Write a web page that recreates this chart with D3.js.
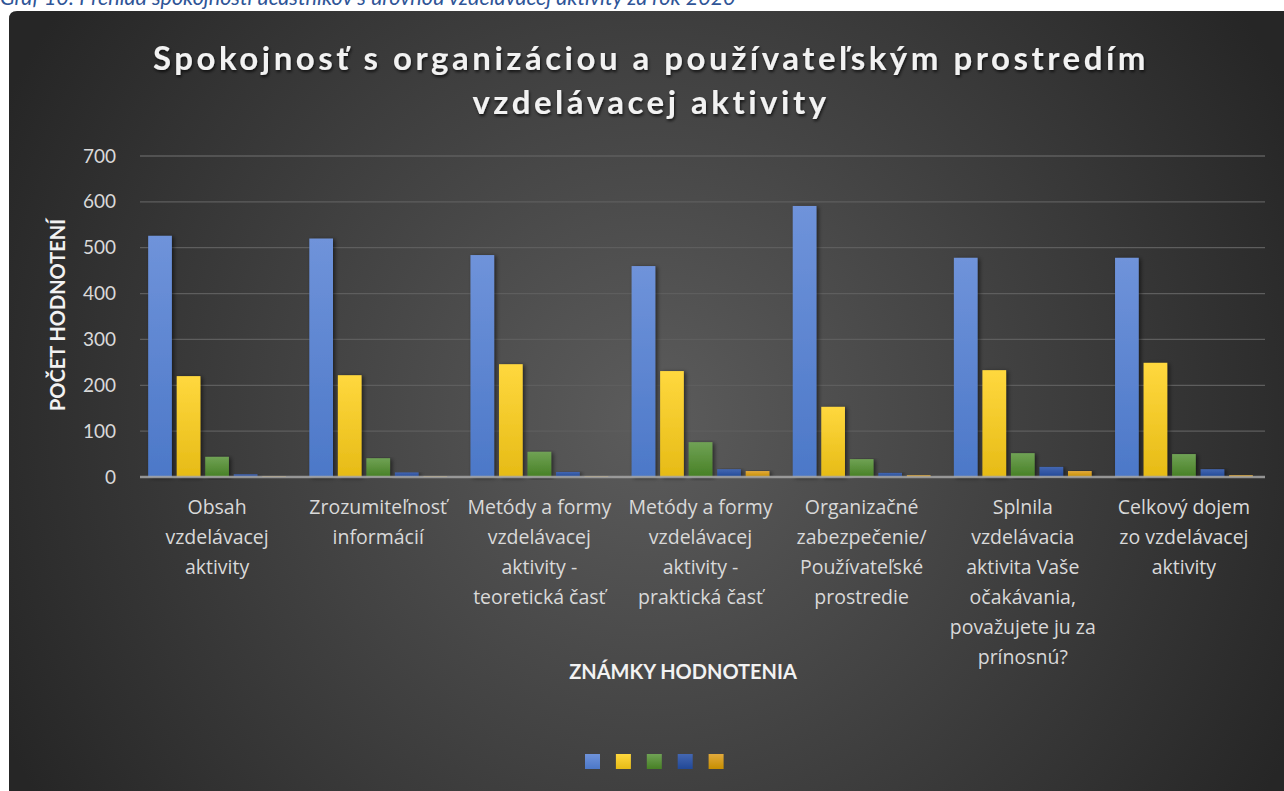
<!DOCTYPE html>
<html><head><meta charset="utf-8">
<script src="https://cdn.jsdelivr.net/npm/d3@7"></script>
<style>html,body{margin:0;padding:0;background:#fff;overflow:hidden}</style>
</head><body>
<script>
const categories = [
  ["Obsah","vzdelávacej","aktivity"],
  ["Zrozumiteľnosť","informácií"],
  ["Metódy a formy","vzdelávacej","aktivity -","teoretická časť"],
  ["Metódy a formy","vzdelávacej","aktivity -","praktická časť"],
  ["Organizačné","zabezpečenie/","Používateľské","prostredie"],
  ["Splnila","vzdelávacia","aktivita Vaše","očakávania,","považujete ju za","prínosnú?"],
  ["Celkový dojem","zo vzdelávacej","aktivity"]
];
const series1 = [526, 520, 484, 460, 591, 478, 478];
const series2 = [220, 222, 246, 231, 153, 233, 249];
const series3 = [44, 41, 55, 76, 39, 52, 50];
const series4 = [6, 10, 11, 17, 9, 22, 17];
const series5 = [2, 2, 2, 13, 4, 13, 4];
const yTicks = [0, 100, 200, 300, 400, 500, 600, 700];
const titleLines = ["Spokojnosť s organizáciou a používateľským prostredím", "vzdelávacej aktivity"];
const yTitle = "POČET HODNOTENÍ";
const xTitle = "ZNÁMKY HODNOTENIA";
const caption = "Graf 10: Prehľad spokojnosti účastníkov s úrovňou vzdelávacej aktivity za rok 2020";

const seriesList = [series1, series2, series3, series4, series5];
const colors = [["#6f93da","#4c78c8"],["#ffd83e","#e6bb16"],["#70a255","#478025"],["#4467b2","#214897"],["#e2aa3c","#c68e00"]];
const FONT = "'Open Sans', Lato, sans-serif";

const W = 1284, H = 791;
const svg = d3.select("body").append("svg").attr("width", W).attr("height", H);
const defs = svg.append("defs");
const rg = defs.append("radialGradient").attr("id","bg").attr("gradientUnits","userSpaceOnUse")
  .attr("cx",650).attr("cy",420).attr("r",720);
rg.append("stop").attr("offset","0%").attr("stop-color","#5c5c5c");
rg.append("stop").attr("offset","100%").attr("stop-color","#262626");
colors.forEach((c,i)=>{
  const g = defs.append("linearGradient").attr("id","g"+i).attr("x1",0).attr("y1",0).attr("x2",0).attr("y2",1);
  g.append("stop").attr("offset","0%").attr("stop-color",c[0]);
  g.append("stop").attr("offset","100%").attr("stop-color",c[1]);
});
const f = defs.append("filter").attr("id","sh").attr("x","-20%").attr("y","-5%").attr("width","160%").attr("height","115%");
f.append("feDropShadow").attr("dx",2).attr("dy",1).attr("stdDeviation",2).attr("flood-color","#000").attr("flood-opacity",0.55);
const tf = defs.append("filter").attr("id","tsh").attr("x","-5%").attr("y","-20%").attr("width","110%").attr("height","150%");
tf.append("feDropShadow").attr("dx",1).attr("dy",2).attr("stdDeviation",1.5).attr("flood-color","#000").attr("flood-opacity",0.7);

// caption (cropped at top, as in the source)
svg.append("text").attr("x",0).attr("y",5).attr("font-family","Lato, sans-serif")
  .attr("font-style","italic").attr("font-size",21.5).attr("fill","#2f5597").text(caption);

// panel
svg.append("path").attr("d", `M9,${H} L9,19 Q9,11 17,11 L${W+5},11 L${W+5},${H} Z`).attr("fill","url(#bg)");

const x0 = d3.scaleBand().domain(d3.range(categories.length)).range([136.5, 1264.5]).paddingInner(0.145).paddingOuter(0.0725);
const x1 = d3.scaleBand().domain(d3.range(seriesList.length)).range([0, x0.bandwidth()]).paddingInner(0.17);
const y = d3.scaleLinear().domain([0, 700]).range([477, 156]);

// grid
const grid = svg.append("g");
grid.selectAll("line").data(yTicks.filter(t=>t>0)).join("line")
  .attr("x1",140).attr("x2",1265).attr("y1",d=>y(d)).attr("y2",d=>y(d))
  .attr("stroke","#5e5e5e").attr("stroke-width",1.3);

// y axis ticks
const yAxis = svg.append("g").attr("transform","translate(116,0)")
  .call(d3.axisLeft(y).tickValues(yTicks).tickSize(0).tickPadding(0));
yAxis.select(".domain").remove();
yAxis.selectAll("text").attr("font-family","Lato, sans-serif").attr("font-size",19).attr("fill","#d9d9d9");

// bars
const groups = svg.append("g").selectAll("g").data(categories).join("g")
  .attr("transform",(d,i)=>`translate(${x0(i)},0)`);
groups.selectAll("rect").data((d,i)=>seriesList.map((s,j)=>({j, v:s[i]}))).join("rect")
  .attr("x",d=>x1(d.j)).attr("width",x1.bandwidth())
  .attr("y",d=>y(d.v)).attr("height",d=>y(0)-y(d.v))
  .attr("fill",d=>`url(#g${d.j})`).attr("filter","url(#sh)");

// baseline
svg.append("line").attr("x1",140).attr("x2",1265).attr("y1",y(0)).attr("y2",y(0))
  .attr("stroke","#a6a6a6").attr("stroke-width",2.5).attr("stroke-opacity",0.85);

// category labels
const xl = svg.append("g");
categories.forEach((lines,i)=>{
  const t = xl.append("text").attr("text-anchor","middle").attr("font-family",FONT)
    .attr("font-size",19.5).attr("fill","#d9d9d9");
  lines.forEach((ln,k)=>t.append("tspan").attr("x",x0(i)+x0.bandwidth()/2).attr("y",514+k*30).text(ln));
});

// axis titles
svg.append("text").attr("transform","translate(65,315) rotate(-90)").attr("text-anchor","middle")
  .attr("font-family","Lato, sans-serif").attr("font-weight","bold").attr("font-size",20)
  .attr("fill","#f2f2f2").text(yTitle);
svg.append("text").attr("x",683).attr("y",679).attr("text-anchor","middle")
  .attr("font-family","Lato, sans-serif").attr("font-weight","bold").attr("font-size",20)
  .attr("fill","#f2f2f2").text(xTitle);

// title
titleLines.forEach((ln,k)=>{
  svg.append("text").attr("x",651).attr("y",70+k*44).attr("text-anchor","middle")
    .attr("font-family","Lato, sans-serif").attr("font-weight","bold").attr("font-size",33)
    .attr("letter-spacing",3.5).attr("fill","#f2f2f2").attr("filter","url(#tsh)").text(ln);
});

// legend
const lg = svg.append("g");
lg.selectAll("rect").data(seriesList.map((s,j)=>j)).join("rect")
  .attr("x",j=>585+j*30.9).attr("y",754).attr("width",15).attr("height",15)
  .attr("fill",j=>`url(#g${j})`);
</script>
</body></html>
